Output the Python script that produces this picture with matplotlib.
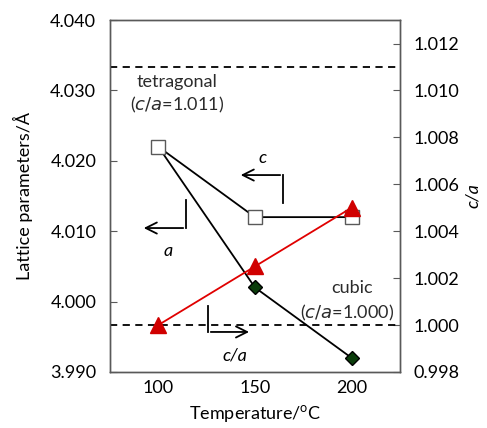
import matplotlib
matplotlib.use('Agg')
import matplotlib.pyplot as plt

plt.rcParams['font.family'] = ['Lato', 'DejaVu Sans']

# data
temp = [100, 150, 200]
c_param = [4.022, 4.012, 4.012]
a_param = [4.022, 4.002, 3.992]
c_over_a = [1.000, 1.0025, 1.005]

tetragonal_ca = 1.011
cubic_ca = 1.000

fig = plt.figure(figsize=(4.87, 4.28), dpi=100)
ax = fig.add_subplot(111)
fig.subplots_adjust(left=0.226, right=0.821, top=0.953, bottom=0.131)

spine_col = '#595959'
fs = 13

# lattice parameters (left axis)
ax.plot(temp, a_param, color='black', lw=1.3, marker='D', markersize=7,
        markerfacecolor='#0b3d0b', markeredgecolor='black', markevery=[1, 2], zorder=3)
ax.plot(temp, c_param, color='black', lw=1.3, marker='s', markersize=10,
        markerfacecolor='white', markeredgecolor='#595959', markeredgewidth=1.0, zorder=4)

ax.set_xlim(75, 225)
ax.set_ylim(3.990, 4.040)
ax.set_xticks(temp)
ax.set_yticks([3.990, 4.000, 4.010, 4.020, 4.030, 4.040])
ax.set_yticklabels(['3.990', '4.000', '4.010', '4.020', '4.030', '4.040'])
ax.tick_params(axis='x', length=0, labelsize=fs, pad=6)
ax.tick_params(axis='y', direction='in', length=5, color=spine_col, labelsize=fs, pad=10)
ax.set_xlabel('Temperature/$^\\mathregular{o}$C', fontsize=fs, labelpad=5)
ax.set_ylabel('Lattice parameters/Å', fontsize=fs, labelpad=12)

# c/a (right axis)
ax2 = ax.twinx()
ax2.axhline(tetragonal_ca, color='black', lw=1.3, ls=(0, (4, 3)))
ax2.axhline(cubic_ca, color='black', lw=1.3, ls=(0, (4, 3)))
ax2.plot(temp, c_over_a, color='#e00000', lw=1.3, marker='^', markersize=11,
         markerfacecolor='#d00000', markeredgecolor='#d00000', zorder=5)
ax2.set_ylim(0.998, 1.013)
ax2.set_yticks([0.998, 1.000, 1.002, 1.004, 1.006, 1.008, 1.010, 1.012])
ax2.set_yticklabels(['0.998', '1.000', '1.002', '1.004', '1.006', '1.008', '1.010', '1.012'])
ax2.tick_params(axis='y', direction='in', length=5, color=spine_col, labelsize=fs, pad=10)
ax2.set_ylabel('c/a', fontsize=fs, style='italic', labelpad=4)

for a in (ax, ax2):
    for s in a.spines.values():
        s.set_color(spine_col)
        s.set_linewidth(1.0)

# text annotations
tc = '#2b2b2b'
ax.text(109.7, 4.0312, 'tetragonal', ha='center', va='center', fontsize=fs, color=tc)
ax.text(109.7, 4.0279, '($\\it{c/a}$=1.011)', ha='center', va='center', fontsize=fs, color=tc)
ax.text(200.5, 4.0019, 'cubic', ha='center', va='center', fontsize=fs, color=tc)
ax.text(197.5, 3.9984, '($\\it{c/a}$=1.000)', ha='center', va='center', fontsize=fs, color=tc)

# bent arrows
arr = dict(arrowstyle='->', color='black', lw=1.3, mutation_scale=20)
# a -> left
ax.plot([114.3, 114.3], [4.01443, 4.01045], color='black', lw=1.3)
ax.annotate('', xy=(91.0, 4.01045), xytext=(114.3, 4.01045), arrowprops=arr)
ax.text(105.0, 4.0072, 'a', style='italic', ha='center', va='center', fontsize=fs)
# c -> left
ax.plot([164.5, 164.5], [4.0140, 4.01798], color='black', lw=1.3)
ax.annotate('', xy=(141.2, 4.01798), xytext=(164.5, 4.01798), arrowprops=arr)
ax.text(154.1, 4.0204, 'c', style='italic', ha='center', va='center', fontsize=fs)
# c/a -> right
ax.plot([125.7, 125.7], [3.99938, 3.99568], color='black', lw=1.3)
ax.annotate('', xy=(148.4, 3.99568), xytext=(125.7, 3.99568), arrowprops=arr)
ax.text(139.7, 3.9924, 'c/a', style='italic', ha='center', va='center', fontsize=fs)

fig.savefig('out.png', dpi=100)
